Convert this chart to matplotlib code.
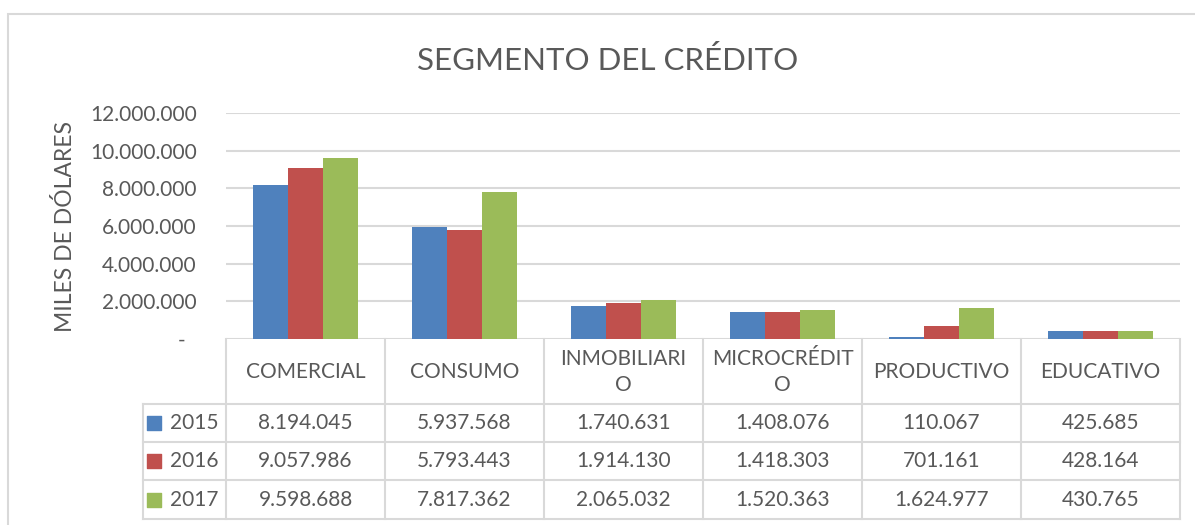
import numpy as np
import matplotlib
matplotlib.use("Agg")
import matplotlib.pyplot as plt
import matplotlib.transforms as mtransforms
from matplotlib.patches import Rectangle

plt.rcParams['font.family'] = ['Lato', 'DejaVu Sans']

# data
categories = ["COMERCIAL", "CONSUMO", "INMOBILIARI\nO", "MICROCRÉDIT\nO", "PRODUCTIVO", "EDUCATIVO"]
years = ["2015", "2016", "2017"]
v2015 = [8194045, 5937568, 1740631, 1408076, 110067, 425685]
v2016 = [9057986, 5793443, 1914130, 1418303, 701161, 428164]
v2017 = [9598688, 7817362, 2065032, 1520363, 1624977, 430765]
colors = ["#4F81BD", "#C0504D", "#9BBB59"]
yticks = [0, 2000000, 4000000, 6000000, 8000000, 10000000, 12000000]

txt = "#595959"
grid = "#D9D9D9"

W, H = 1195, 525
fig = plt.figure(figsize=(W / 100, H / 100), dpi=100)

# plot area in pixels
left, right, top, bottom = 226, 1180, 113, 339
ax = fig.add_axes([left / W, 1 - bottom / H, (right - left) / W, (bottom - top) / H])
ax_h = bottom - top

def ay(ypx):
    # pixel y -> axes fraction
    return (bottom - ypx) / ax_h

# chart border
fig.patches.append(Rectangle((8 / W, -0.1), 1.1, 1 - 14 / H + 0.1, transform=fig.transFigure,
                             fill=False, ec=grid, lw=1.5))

x = np.arange(len(categories))
bw = 0.22
series = [v2015, v2016, v2017]
for i, vals in enumerate(series):
    ax.bar(x + (i - 1) * bw, vals, bw, color=colors[i], zorder=3)

ax.set_xlim(-0.5, len(categories) - 0.5)
ax.set_ylim(0, 12000000)
ax.set_yticks(yticks)
ax.set_yticklabels(["-  "] + [f"{v:,}".replace(",", ".") for v in yticks[1:]])
ax.tick_params(axis='y', length=0, pad=21, labelsize=15, labelcolor=txt)
ax.set_xticks([])
ax.grid(axis='y', color=grid, lw=1.5, zorder=0)
for s in ax.spines.values():
    s.set_visible(False)

ax.set_ylabel("MILES DE DÓLARES", fontsize=16.5, color=txt)
ax.yaxis.set_label_coords(-0.157, 0.5)

fig.text(608 / W, 1 - 60 / H, "SEGMENTO DEL CRÉDITO", ha='center', va='center',
         fontsize=22.5, color=txt)

# data table
tr = mtransforms.blended_transform_factory(ax.transData, ax.transAxes)
row_edges = [404, 442, 480, 519]
x_left = -0.5 - 83 / 159
col_edges = np.arange(len(categories) + 1) - 0.5

for ypx in row_edges:
    ax.plot([x_left, col_edges[-1]], [ay(ypx)] * 2, color=grid, lw=1.5,
            transform=tr, clip_on=False, zorder=1)
ax.plot([x_left, x_left], [ay(row_edges[0]), ay(row_edges[-1])], color=grid, lw=1.5,
        transform=tr, clip_on=False)
for xe in col_edges:
    ax.plot([xe, xe], [0, ay(row_edges[-1])], color=grid, lw=1.5,
            transform=tr, clip_on=False)

for i, c in enumerate(categories):
    ax.text(i, ay(372), c, ha='center', va='center', fontsize=15, color=txt,
            transform=tr, linespacing=1.35)

for r, (yr, vals) in enumerate(zip(years, series)):
    yc = ay((row_edges[r] + row_edges[r + 1]) / 2)
    ax.scatter([x_left + 0.07], [yc], marker='s', s=110, color=colors[r],
               transform=tr, clip_on=False)
    ax.text(x_left + 0.17, yc, yr, ha='left', va='center', fontsize=15, color=txt,
            transform=tr)
    for i, v in enumerate(vals):
        ax.text(i, yc, f"{v:,}".replace(",", "."), ha='center', va='center',
                fontsize=15, color=txt, transform=tr)

fig.savefig("out.png", dpi=100)
